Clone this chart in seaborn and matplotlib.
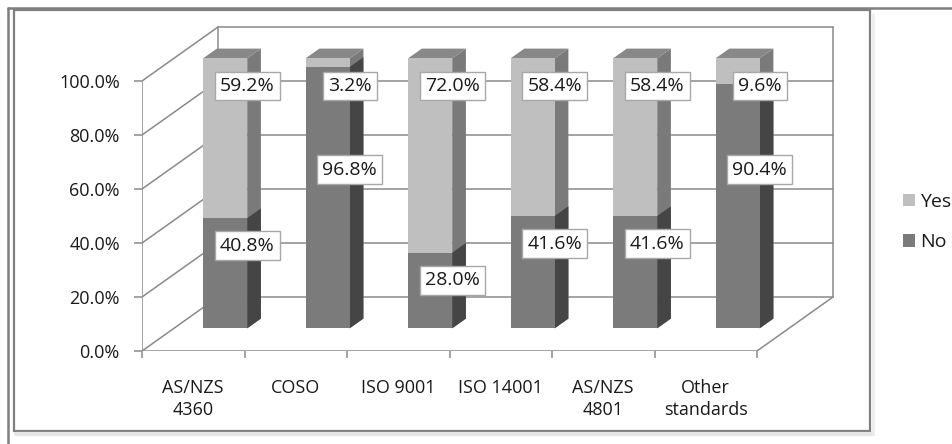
import matplotlib
matplotlib.use("Agg")
import matplotlib.pyplot as plt
from matplotlib.transforms import Affine2D
from matplotlib.patches import Patch, Rectangle
from matplotlib.lines import Line2D
import numpy as np
import pandas as pd
import seaborn as sns

# ---- data -------------------------------------------------------------
categories = ["AS/NZS\n4360", "COSO", "ISO 9001", "ISO 14001", "AS/NZS\n4801", "Other\nstandards"]
yes_pct = [59.2, 3.2, 72.0, 58.4, 58.4, 9.6]
no_pct = [40.8, 96.8, 28.0, 41.6, 41.6, 90.4]
series_names = ["Yes", "No"]
y_ticks = [0, 20, 40, 60, 80, 100]

# ---- style ------------------------------------------------------------
sns.set_theme(style="white")
plt.rcParams["font.family"] = ["Open Sans", "DejaVu Sans"]
TEXT = "#1a1a1a"
GRID = "#8a8a8a"
YES_FRONT, YES_SIDE, YES_TOP = "#bfbfbf", "#7a7a7a", "#888888"
NO_FRONT, NO_SIDE = "#7b7b7b", "#454545"

W, H = 952, 444
fig = plt.figure(figsize=(W / 100, H / 100), dpi=100)
fig.patch.set_facecolor("white")

# plotting axes: x -0.5..6.5 (102.5 px per category), y 0..125 (2.7 px per %)
ax = fig.add_axes([142 / W, (H - 351) / H, 717.5 / W, 337.5 / H])
ax.set_facecolor("none")

# oblique depth projection (data units for full depth)
DX, DY = 0.7415, 20.0
D0, D1 = 0.42, 0.60          # front / back depth of the columns
BAR_W = 0.43
n = len(categories)


def proj(x, y, d):
    return x + DX * d, y + DY * d


df = pd.DataFrame({"category": categories, "Yes": yes_pct, "No": no_pct})
df["total"] = df["Yes"] + df["No"]

# ---- walls, floor, gridlines -----------------------------------------
x_left, x_right = -0.5, n - 0.5
for g in y_ticks:
    bx0, by = proj(x_left, g, 1)
    bx1, _ = proj(x_right, g, 1)
    ax.plot([bx0, bx1], [by, by], color=GRID, lw=1.1, zorder=1)
    ax.plot([x_left, bx0], [g, by], color=GRID, lw=1.1, zorder=1)
for xe in (x_left, x_right):
    bx, b0 = proj(xe, 0, 1)
    _, b1 = proj(xe, 100, 1)
    ax.plot([bx, bx], [b0, b1], color=GRID, lw=1.1, zorder=1)
fx, fy = proj(x_right, 0, 1)
ax.plot([x_right, fx], [0, fy], color=GRID, lw=1.1, zorder=1)
ax.plot([x_left, x_right], [0, 0], color=GRID, lw=1.1, zorder=1)
ax.plot([x_left, x_left], [0, 100], color=GRID, lw=1.1, zorder=1)

# ---- stacked columns (front faces) -----------------------------------
sns.barplot(data=df, x="category", y="total", color=YES_FRONT, saturation=1,
            width=BAR_W, errorbar=None, linewidth=0, edgecolor="none", ax=ax, zorder=3)
n_yes = len(ax.patches)
sns.barplot(data=df, x="category", y="No", color=NO_FRONT, saturation=1,
            width=BAR_W, errorbar=None, linewidth=0, edgecolor="none", ax=ax, zorder=3)
yes_bars = ax.patches[:n_yes]
no_bars = ax.patches[n_yes:]

shift = Affine2D().translate(DX * D0, DY * D0)
for p in ax.patches:
    p.set_transform(shift + ax.transData)


def side_face(p, color):
    x1 = p.get_x() + p.get_width()
    y0, y1 = p.get_y(), p.get_y() + p.get_height()
    pts = [proj(x1, y0, D0), proj(x1, y1, D0), proj(x1, y1, D1), proj(x1, y0, D1)]
    xs, ys = zip(*pts)
    ax.fill(xs, ys, color=color, lw=0, zorder=2.9)


def top_face(p, color):
    x0 = p.get_x()
    x1 = x0 + p.get_width()
    yt = p.get_y() + p.get_height()
    pts = [proj(x0, yt, D0), proj(x1, yt, D0), proj(x1, yt, D1), proj(x0, yt, D1)]
    xs, ys = zip(*pts)
    ax.fill(xs, ys, color=color, lw=0, zorder=2.9)


for p in yes_bars:
    side_face(p, YES_SIDE)
    top_face(p, YES_TOP)
for p in no_bars:
    side_face(p, NO_SIDE)

# ---- data labels ------------------------------------------------------
box = dict(boxstyle="square,pad=0.27", fc="white", ec="#a8a8a8", lw=1.0)
LABEL_DROP = 10.2     # below the segment top on the front face
MIN_GAP = 31.0        # keep labels of one column apart
for i, (py, pn) in enumerate(zip(yes_bars, no_bars)):
    xr = py.get_x() + py.get_width()
    lx, _ = proj(xr, 0, D0)
    top_yes = py.get_y() + py.get_height()
    top_no = pn.get_y() + pn.get_height()
    ly_yes = proj(0, top_yes, D0)[1] - LABEL_DROP
    ly_no = min(proj(0, top_no, D0)[1] - LABEL_DROP, ly_yes - MIN_GAP)
    ax.text(lx, ly_yes, f"{yes_pct[i]:.1f}%", ha="center", va="center",
            fontsize=14, color=TEXT, bbox=box, zorder=6)
    ax.text(lx, ly_no, f"{no_pct[i]:.1f}%", ha="center", va="center",
            fontsize=14, color=TEXT, bbox=box, zorder=6)

# ---- axes & ticks -----------------------------------------------------
ax.set_xlim(-0.5, 6.5)
ax.set_ylim(0, 125)
for s in ax.spines.values():
    s.set_visible(False)
ax.set_xlabel("")
ax.set_ylabel("")
ax.set_yticks(y_ticks)
ax.set_yticklabels([f"{t:.1f}%" for t in y_ticks])
ax.set_xticks(range(n))
ax.set_xticklabels(categories, linespacing=1.3)
ax.set_xticks(np.arange(n + 1) - 0.5, minor=True)
ax.tick_params(axis="y", which="major", left=True, length=6, width=1.1, color=GRID,
               direction="out", pad=10, labelsize=13, labelcolor=TEXT)
ax.tick_params(axis="x", which="major", bottom=True, length=0, pad=20,
               labelsize=13, labelcolor=TEXT)
ax.tick_params(axis="x", which="minor", bottom=True, length=5, width=1.1,
               color=GRID, direction="out")
ax.grid(False)

# ---- legend -----------------------------------------------------------
handles = [Patch(facecolor=YES_FRONT, edgecolor="none"),
           Patch(facecolor=NO_FRONT, edgecolor="none")]
fig.legend(handles, series_names, loc="center left",
           bbox_to_anchor=(885 / W, 1 - 222 / H), frameon=False,
           fontsize=14, handlelength=0.62, handleheight=0.62,
           handletextpad=0.3, labelspacing=1.15, labelcolor=TEXT)

# ---- frames -----------------------------------------------------------
fig.add_artist(Rectangle((14 / W, 1 - 431 / H), (870 - 14) / W, (431 - 10) / H,
                         transform=fig.transFigure, fill=False, ec="#7f7f7f", lw=1.6))
fig.add_artist(Line2D([16 / W, 873 / W], [1 - 434 / H, 1 - 434 / H],
                      transform=fig.transFigure, color="#e6e6e6", lw=3))
fig.add_artist(Line2D([873 / W, 873 / W], [1 - 14 / H, 1 - 434 / H],
                      transform=fig.transFigure, color="#ececec", lw=2))
fig.add_artist(Line2D([8 / W, 8 / W], [0, 1 - 8 / H],
                      transform=fig.transFigure, color="#7f7f7f", lw=1.8))
fig.add_artist(Line2D([8 / W, 1], [1 - 8 / H, 1 - 8 / H],
                      transform=fig.transFigure, color="#7f7f7f", lw=1.8))

fig.savefig("out.png", dpi=100, facecolor="white")
